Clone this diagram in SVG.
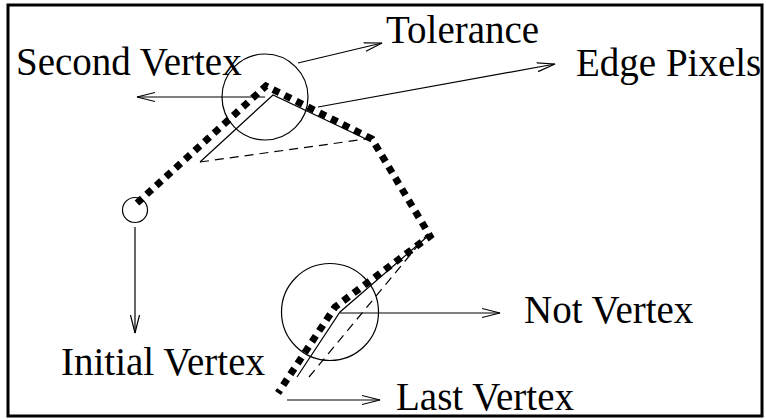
<svg xmlns="http://www.w3.org/2000/svg" width="766" height="419" viewBox="0 0 766 419">
<style>
.lbl{font-family:"Liberation Serif","Times New Roman",serif;font-size:39px;fill:#000}
.thin{fill:none;stroke:#000;stroke-width:1.2}
.dash{fill:none;stroke:#000;stroke-width:1.2;stroke-dasharray:9,6}
.arr{fill:none;stroke:#000;stroke-width:1.2;marker-end:url(#ah)}
.edge{fill:none;stroke:#000;stroke-width:7;stroke-dasharray:7,6}
</style>
<defs>
<marker id="ah" markerUnits="userSpaceOnUse" markerWidth="20" markerHeight="12" viewBox="0 0 20 12" refX="18" refY="6" orient="auto">
<path d="M0,1.5 L18,6 L0,10.5" fill="none" stroke="#000" stroke-width="1.2"/>
</marker>
</defs>
<rect x="0" y="0" width="766" height="419" fill="#fff"/>
<rect id="frame" x="8" y="5" width="754" height="411" fill="none" stroke="#000" stroke-width="3"/>
<g id="edge-pixels-path">
<polyline class="edge" points="137,203 266,86 372,139 430,236 335,307 278,393"/>
</g>
<g id="approx-upper">
<polyline class="thin" points="200,162 273,95 366,139"/>
<line class="dash" x1="200" y1="162" x2="366" y2="139"/>
</g>
<g id="approx-lower">
<polyline class="thin" points="297,377 340,312 428,236"/>
<line class="dash" x1="309" y1="377" x2="425" y2="237"/>
</g>
<g id="tolerance-circle"><circle class="thin" cx="265" cy="97" r="43"/></g>
<g id="initial-circle"><circle class="thin" cx="135" cy="210" r="12.5"/></g>
<g id="lower-circle"><circle class="thin" cx="330" cy="312" r="48.5"/></g>
<g id="connectors">
<line class="arr" x1="265" y1="97" x2="137" y2="97"/>
<line class="arr" x1="298" y1="63" x2="382" y2="43"/>
<line class="arr" x1="318" y1="107" x2="555" y2="64"/>
<line class="arr" x1="135" y1="227" x2="135" y2="333"/>
<line class="arr" x1="340" y1="313" x2="500" y2="313"/>
<line class="arr" x1="287" y1="400" x2="380" y2="400"/>
</g>
<g id="label-second"><text class="lbl" x="16" y="75">Second Vertex</text></g>
<g id="label-tolerance"><text class="lbl" x="386" y="43">Tolerance</text></g>
<g id="label-edge"><text class="lbl" x="576" y="76">Edge Pixels</text></g>
<g id="label-initial"><text class="lbl" x="61" y="375">Initial Vertex</text></g>
<g id="label-not"><text class="lbl" x="524" y="323">Not Vertex</text></g>
<g id="label-last"><text class="lbl" x="396" y="410">Last Vertex</text></g>
</svg>
